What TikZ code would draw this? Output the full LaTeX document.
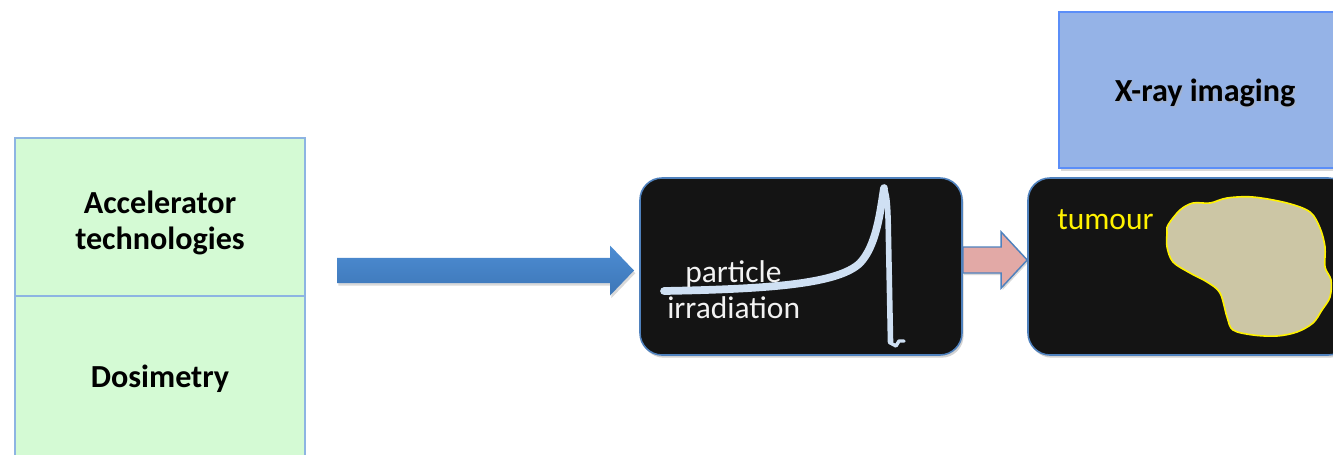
\documentclass[tikz,border=0pt]{standalone}
\usepackage{fontspec}
\setmainfont{Carlito}
\usetikzlibrary{calc,shadows}

\definecolor{greenfill}{HTML}{D4FAD4}
\definecolor{greenline}{HTML}{8DB4E2}
\definecolor{panelfill}{HTML}{141414}
\definecolor{panelline}{HTML}{4F81BD}
\definecolor{xrayfill}{HTML}{95B3E7}
\definecolor{xrayline}{HTML}{5B8EF8}
\definecolor{beamtop}{HTML}{4D8DD3}
\definecolor{beambot}{HTML}{3D76B7}
\definecolor{pinkfill}{HTML}{E2A9A6}
\definecolor{braggcol}{HTML}{CFE0F3}
\definecolor{tumourfill}{HTML}{CCC6A5}

% block arrow from #2 to the tip #3; half shaft #4, half head #5, head length #6 (pt)
\newcommand\blockarrow[6]{%
  \draw[#1] let \p1=(#2), \p2=(#3) in
    (\x1,\y2+#4) -- (\x2-#6,\y2+#4) -- (\x2-#6,\y2+#5) -- (\x2,\y2)
    -- (\x2-#6,\y2-#5) -- (\x2-#6,\y2-#4) -- (\x1,\y2-#4) -- cycle;}

\tikzset{
  topicbox/.style={draw=greenline, fill=greenfill, line width=1.1pt,
    minimum width=217.5pt, inner sep=0pt},
  panel/.style={draw=panelline, fill=panelfill, line width=1.2pt,
    rounded corners=16.5pt, minimum width=241.5pt, minimum height=132.75pt,
    inner sep=0pt, drop shadow={shadow xshift=1.2pt, shadow yshift=-2pt, opacity=.35}},
  xraybox/.style={draw=xrayline, fill=xrayfill, line width=1.5pt,
    minimum width=219pt, minimum height=117pt, inner sep=0pt,
    drop shadow={shadow xshift=1.2pt, shadow yshift=-2pt, opacity=.3}},
  boldlabel/.style={font=\fontsize{24.1}{27.4}\selectfont\bfseries, text=black,
    align=center, inner sep=0pt},
  lightlabel/.style={font=\fontsize{23.6}{27.4}\selectfont, inner sep=0pt},
  beamarrow/.style={top color=beamtop, bottom color=beambot, draw=none,
    drop shadow={shadow xshift=1pt, shadow yshift=-2pt, opacity=.3}},
  steparrow/.style={fill=pinkfill, draw=panelline, line width=1.1pt, line join=miter,
    drop shadow={shadow xshift=1pt, shadow yshift=-1.5pt, opacity=.3}},
  bragg/.style={draw=braggcol, line cap=round, line join=round},
}

\begin{document}
\begin{tikzpicture}[x=0.75pt, y=-0.75pt]
\useasboundingbox (0,0) rectangle (1333,454);
\clip (0,0) rectangle (1333,454);

% research topics on the left
\node[topicbox, minimum height=118.5pt] (acc) at (160,217) {};
\node[topicbox, minimum height=127.5pt] (dos) at (160,381) {};
\node[boldlabel] (acctext) at (160,223) {Accelerator\\technologies};
\node[boldlabel] (dostext) at (160,379) {Dosimetry};

% treatment chain
\node[panel] (beam) at (801,266.5) {};
\node[panel] (target) at (1189,266.5) {};
\node[xraybox] (xray) at (1205,90) {};
\node[boldlabel, text=black!30, opacity=.45] at (1206.5,95) {X-ray imaging};
\node[boldlabel] (xraytext) at (1205,93) {X-ray imaging};

% arrows
\coordinate (beamstart) at (337,270.5);
\coordinate (beamtip) at (634,270.5);
\blockarrow{beamarrow}{beamstart}{beamtip}{9.4}{18.75}{18}
\coordinate (steptip) at ($(target.west)+(0,-6.5)$);
\blockarrow{steparrow}{beam.east}{steptip}{9.75}{21}{19.5}

% depth-dose curve with the Bragg peak
\draw[bragg, line width=5.8pt] (664,291) .. controls (770,289) and (838,284) .. (860,263)
  .. controls (876,246) and (880,214) .. (884,188);
\draw[bragg, line width=4.2pt] (884,188) .. controls (888,196) and (888,215) .. (888.5,240)
  -- (890.5,342);
\draw[bragg, line width=2.6pt] (890.5,343) -- (896,346) -- (899,341) -- (904,341);

\node[lightlabel, text=white!95!black, anchor=base west] (particle) at (685,282) {particle};
\node[lightlabel, text=white!95!black, anchor=base west] (irradiation) at (667,318) {irradiation};

% tumour
\draw[draw=yellow, fill=tumourfill, line width=1.2pt]
  plot[smooth cycle, tension=0.55] coordinates {
   (1168,225) (1180,210) (1193,203) (1210,203) (1227,198) (1253,197)
   (1287,203) (1310,212) (1320,228) (1325,247) (1325,267) (1331,280)
   (1330,297) (1322,310) (1313,323) (1297,332) (1277,336) (1253,335)
   (1233,330) (1227,317) (1220,293) (1207,282) (1190,273) (1173,262)
   (1167,247) (1167,233)};
\node[lightlabel, text=yellow, anchor=base west] (tumour) at (1057,229) {tumour};
\end{tikzpicture}
\end{document}
